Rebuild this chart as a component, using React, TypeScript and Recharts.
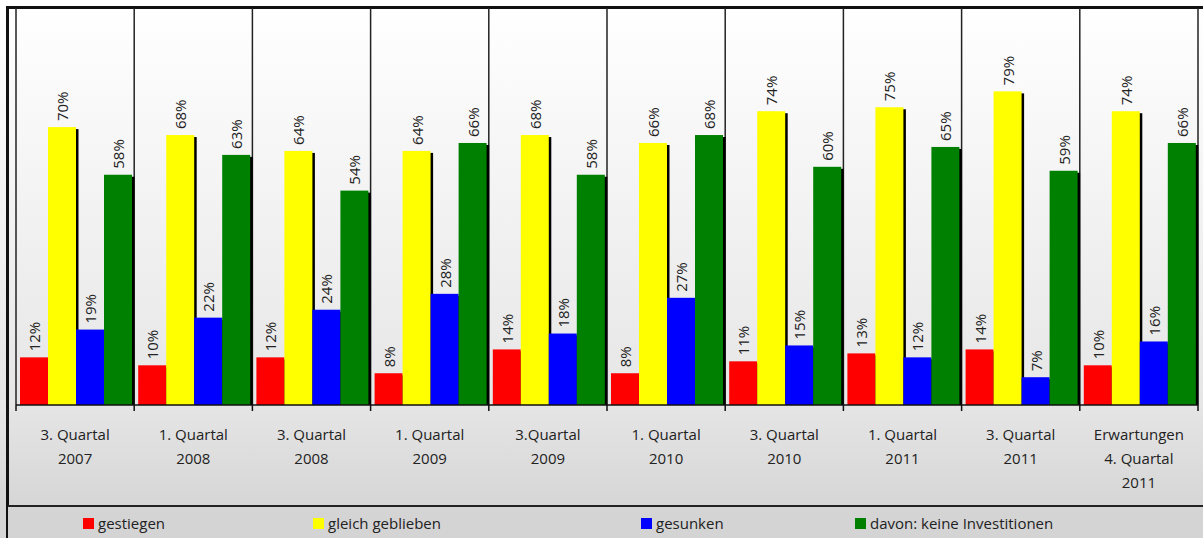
import React from "react";
import { BarChart, Bar, XAxis, YAxis, CartesianGrid, LabelList } from "recharts";

// quarters shown on the x axis (line breaks as in the original)
const categories = [
  "3. Quartal\n2007",
  "1. Quartal\n2008",
  "3. Quartal\n2008",
  "1. Quartal\n2009",
  "3.Quartal\n2009",
  "1. Quartal\n2010",
  "3. Quartal\n2010",
  "1. Quartal\n2011",
  "3. Quartal\n2011",
  "Erwartungen\n4. Quartal\n2011",
];

const gestiegen = [12, 10, 12, 8, 14, 8, 11, 13, 14, 10];
const gleichGeblieben = [70, 68, 64, 64, 68, 66, 74, 75, 79, 74];
const gesunken = [19, 22, 24, 28, 18, 27, 15, 12, 7, 16];
const keineInvestitionen = [58, 63, 54, 66, 58, 68, 60, 65, 59, 66];

const series = [
  { key: "gestiegen", label: "gestiegen", color: "#ff0000" },
  { key: "gleich", label: "gleich geblieben", color: "#ffff00" },
  { key: "gesunken", label: "gesunken", color: "#0000ff" },
  { key: "keine", label: "davon: keine Investitionen", color: "#008000" },
];

const data = categories.map((name, i) => ({
  name,
  gestiegen: gestiegen[i],
  gleich: gleichGeblieben[i],
  gesunken: gesunken[i],
  keine: keineInvestitionen[i],
}));

const W = 1203;
const CHART_H = 505;
const M = { top: 8, right: 5, bottom: 0, left: 16 };
const PLOT_W = W - M.left - M.right;
const BAND = PLOT_W / categories.length;
const FONT = "'Open Sans', sans-serif";
const legendX = [83, 313, 641, 855];

// bar with the small black drop shadow on its right side
function ShadowBar(props: any) {
  const { x, y, width, height, fill } = props;
  if (!height || height <= 0) return null;
  return (
    <g>
      <rect x={x + 2.5} y={y + 2} width={width} height={height - 2} fill="#000" />
      <rect x={x} y={y} width={width} height={height} fill={fill} />
    </g>
  );
}

function ValueLabel(props: any) {
  const { x, y, width, value } = props;
  const cx = x + width / 2;
  const ty = y - 6;
  return (
    <text
      x={cx}
      y={ty}
      transform={`rotate(-90 ${cx} ${ty})`}
      textAnchor="start"
      dominantBaseline="central"
      fontSize={15}
      fontFamily={FONT}
      fill="#222"
    >
      {value}%
    </text>
  );
}

function CategoryTick(props: any) {
  const { x, y, payload, index } = props;
  const lines = String(payload.value).split("\n");
  const left = x - BAND / 2;
  return (
    <g>
      <line x1={left} x2={left} y1={y} y2={y + 6} stroke="#111" strokeWidth={1.5} />
      {index === categories.length - 1 && (
        <line x1={x + BAND / 2} x2={x + BAND / 2} y1={y} y2={y + 6} stroke="#111" strokeWidth={1.5} />
      )}
      <text x={x} y={y + 35} textAnchor="middle" fontSize={15} fontFamily={FONT} fill="#222">
        {lines.map((l, i) => (
          <tspan key={i} x={x} dy={i === 0 ? 0 : 24}>
            {l}
          </tspan>
        ))}
      </text>
    </g>
  );
}

export default function App() {
  return (
    <div
      style={{
        position: "absolute",
        left: 0,
        top: 0,
        width: W,
        height: 538,
        overflow: "hidden",
        background: "linear-gradient(to bottom, #ffffff 8px, #e6e6e6 400px, #d6d6d6 505px)",
        fontFamily: FONT,
      }}
    >
      <div
        style={{
          position: "absolute",
          left: 6,
          top: 6,
          width: 1220,
          height: 560,
          borderLeft: "3px solid #111",
          borderTop: "3px solid #111",
        }}
      />
      <div style={{ position: "absolute", left: 0, top: 0 }}>
        <BarChart
          width={W}
          height={CHART_H}
          data={data}
          margin={M}
          barCategoryGap={4}
          barGap={0}
        >
          <CartesianGrid
            horizontal={false}
            stroke="#222"
            strokeWidth={1.5}
            strokeDasharray=""
            verticalCoordinatesGenerator={({ offset }: any) =>
              Array.from(
                { length: categories.length + 1 },
                (_, i) => offset.left + (i * offset.width) / categories.length
              )
            }
          />
          <YAxis hide domain={[0, 100]} />
          <XAxis
            dataKey="name"
            height={100}
            interval={0}
            tickLine={false}
            tickSize={0}
            tickMargin={0}
            axisLine={{ stroke: "#111", strokeWidth: 1.5 }}
            tick={<CategoryTick />}
          />
          {series.map((s) => (
            <Bar
              key={s.key}
              dataKey={s.key}
              fill={s.color}
              shape={<ShadowBar />}
              isAnimationActive={false}
            >
              <LabelList dataKey={s.key} content={<ValueLabel />} />
            </Bar>
          ))}
        </BarChart>
      </div>
      <div
        style={{
          position: "absolute",
          left: 8,
          top: 505,
          width: W,
          height: 33,
          background: "#d4d4d4",
          borderTop: "2px solid #222",
        }}
      />
      {series.map((s, i) => (
        <div
          key={s.key}
          style={{
            position: "absolute",
            left: legendX[i],
            top: 510,
            height: 26,
            display: "flex",
            alignItems: "center",
            fontSize: 15,
            color: "#222",
            whiteSpace: "nowrap",
          }}
        >
          <span
            style={{
              display: "inline-block",
              width: 11,
              height: 11,
              background: s.color,
              marginRight: 4,
            }}
          />
          {s.label}
        </div>
      ))}
    </div>
  );
}
